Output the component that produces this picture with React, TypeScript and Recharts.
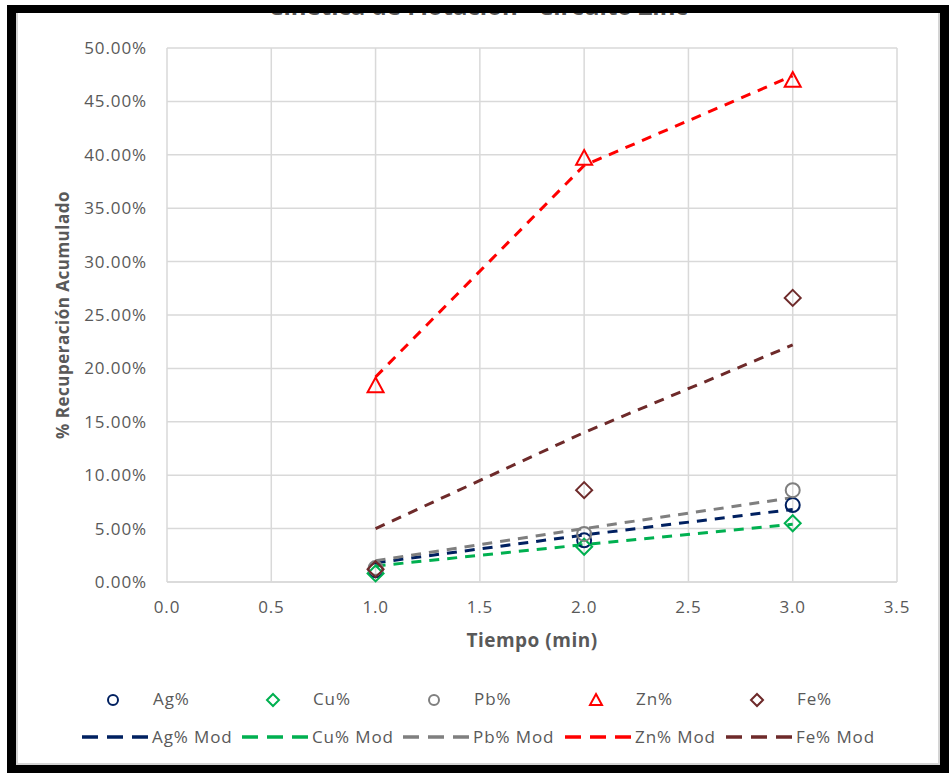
import React from 'react';
import {
  ComposedChart,
  Line,
  Scatter,
  XAxis,
  YAxis,
  CartesianGrid,
  Label,
} from 'recharts';

// tiempo (min)
const tiempo = [1, 2, 3];

// % recuperación acumulado, observado
const agObs = [1.1, 3.9, 7.2];
const cuObs = [0.8, 3.3, 5.5];
const pbObs = [1.3, 4.5, 8.6];
const znObs = [18.4, 39.7, 47.0];
const feObs = [1.2, 8.6, 26.6];

// modelo
const agMod = [1.8, 4.4, 6.8];
const cuMod = [1.5, 3.5, 5.4];
const pbMod = [2.0, 5.0, 7.9];
const znMod = [19.2, 39.0, 47.4];
const feMod = [5.0, 14.0, 22.2];

const xTicks = [0, 0.5, 1, 1.5, 2, 2.5, 3, 3.5];
const yTicks = [0, 5, 10, 15, 20, 25, 30, 35, 40, 45, 50];

const TITLE = 'Cinética de Flotación - Circuito Zinc';

type MarkerKind = 'circle' | 'diamond' | 'triangle';

const series = [
  { name: 'Ag%', key: 'ag', color: '#002060', marker: 'circle' as MarkerKind },
  { name: 'Cu%', key: 'cu', color: '#00B050', marker: 'diamond' as MarkerKind },
  { name: 'Pb%', key: 'pb', color: '#7F7F7F', marker: 'circle' as MarkerKind },
  { name: 'Zn%', key: 'zn', color: '#FF0000', marker: 'triangle' as MarkerKind },
  { name: 'Fe%', key: 'fe', color: '#6E2A2A', marker: 'diamond' as MarkerKind },
];

const data = tiempo.map((t, i) => ({
  t,
  ag: agObs[i],
  cu: cuObs[i],
  pb: pbObs[i],
  zn: znObs[i],
  fe: feObs[i],
  agMod: agMod[i],
  cuMod: cuMod[i],
  pbMod: pbMod[i],
  znMod: znMod[i],
  feMod: feMod[i],
}));

const FONT = '"Open Sans", sans-serif';
const TEXT = '#595959';

const drawMarker = (kind: MarkerKind, cx: number, cy: number, color: string, s: number) => {
  if (kind === 'circle') {
    return <circle cx={cx} cy={cy} r={s} fill="none" stroke={color} strokeWidth={2} />;
  }
  if (kind === 'diamond') {
    const h = s + 1;
    return (
      <polygon
        points={`${cx},${cy - h} ${cx + h},${cy} ${cx},${cy + h} ${cx - h},${cy}`}
        fill="none"
        stroke={color}
        strokeWidth={2}
      />
    );
  }
  const h = s + 1;
  return (
    <polygon
      points={`${cx},${cy - h} ${cx + h},${cy + h * 0.85} ${cx - h},${cy + h * 0.85}`}
      fill="none"
      stroke={color}
      strokeWidth={2}
    />
  );
};

const shapeFor = (kind: MarkerKind, color: string) => (props: any) => {
  if (props.cx == null || props.cy == null) return <g />;
  return drawMarker(kind, props.cx, props.cy, color, 7);
};

const legendCols = [82, 242, 403, 565, 726];

const legendText = { fontSize: 17, color: TEXT, fontFamily: FONT, letterSpacing: 0.9 };

const Legend2 = () => (
  <>
    {series.map((s, i) => (
      <React.Fragment key={s.key}>
        <svg
          width={20}
          height={20}
          style={{ position: 'absolute', left: legendCols[i] + 21, top: 690 }}
        >
          {drawMarker(s.marker, 10, 10, s.color, 5)}
        </svg>
        <div style={{ position: 'absolute', left: legendCols[i] + 71, top: 687, ...legendText }}>
          {s.name}
        </div>
        <svg width={66} height={8} style={{ position: 'absolute', left: legendCols[i], top: 733 }}>
          <line x1={0} y1={4} x2={66} y2={4} stroke={s.color} strokeWidth={3.5} strokeDasharray="16 9" />
        </svg>
        <div style={{ position: 'absolute', left: legendCols[i] + 70, top: 725, ...legendText }}>
          {s.name} Mod
        </div>
      </React.Fragment>
    ))}
  </>
);

export default function App() {
  return (
    <div style={{ position: 'absolute', left: 0, top: 0, width: 949, height: 773, background: '#fff', fontFamily: FONT }}>
      <div style={{ position: 'absolute', left: 7, top: 5, width: 942, height: 768, background: '#000' }} />
      <div
        style={{
          position: 'absolute',
          left: 16,
          top: 13,
          width: 924,
          height: 752,
          background: '#fff',
          boxSizing: 'border-box',
          border: '2px solid #D4D4D4',
          borderTop: 'none',
          overflow: 'hidden',
        }}
      >
        <div
          style={{
            position: 'absolute',
            left: 0,
            width: '100%',
            top: -19,
            lineHeight: '24px',
            fontSize: 24,
            fontWeight: 700,
            color: TEXT,
            textAlign: 'center',
            whiteSpace: 'nowrap',
          }}
        >
          {TITLE}
        </div>
      </div>
      <div style={{ position: 'absolute', left: 0, top: 0 }}>
        <ComposedChart width={949} height={773} data={data} margin={{ top: 48, right: 52, bottom: 121, left: 40 }}>
          <CartesianGrid stroke="#D9D9D9" strokeWidth={1.5} />
          <XAxis
            type="number"
            dataKey="t"
            domain={[0, 3.5]}
            ticks={xTicks}
            tickFormatter={(v: number) => v.toFixed(1)}
            height={70}
            axisLine={{ stroke: '#D9D9D9', strokeWidth: 1.5 }}
            tickLine={false}
            tickMargin={13}
            tick={{ fill: TEXT, fontSize: 17, fontFamily: FONT, letterSpacing: 0.8 }}
            interval={0}
          >
            <Label
              value="Tiempo (min)"
              position="insideBottom"
              offset={5}
              style={{ fill: TEXT, fontSize: 19, fontWeight: 700, fontFamily: FONT, letterSpacing: 0.5 }}
            />
          </XAxis>
          <YAxis
            type="number"
            domain={[0, 50]}
            ticks={yTicks}
            tickFormatter={(v: number) => `${v.toFixed(2)}%`}
            width={127}
            axisLine={false}
            tickLine={false}
            tickMargin={14}
            tick={{ fill: TEXT, fontSize: 17, fontFamily: FONT, letterSpacing: 0.9 }}
            interval={0}
          >
            <Label
              value="% Recuperación  Acumulado"
              angle={-90}
              position="insideLeft"
              offset={23}
              style={{ fill: TEXT, fontSize: 17, fontWeight: 700, fontFamily: FONT, textAnchor: 'middle', letterSpacing: 0.5 }}
            />
          </YAxis>
          {series.map((s) => (
            <Line
              key={s.key + 'Mod'}
              type="linear"
              dataKey={s.key + 'Mod'}
              stroke={s.color}
              strokeWidth={3}
              strokeDasharray="10 8"
              dot={false}
              activeDot={false}
              isAnimationActive={false}
            />
          ))}
          {series.map((s) => (
            <Scatter
              key={s.key}
              dataKey={s.key}
              shape={shapeFor(s.marker, s.color)}
              isAnimationActive={false}
            />
          ))}
        </ComposedChart>
      </div>
      <Legend2 />
    </div>
  );
}
